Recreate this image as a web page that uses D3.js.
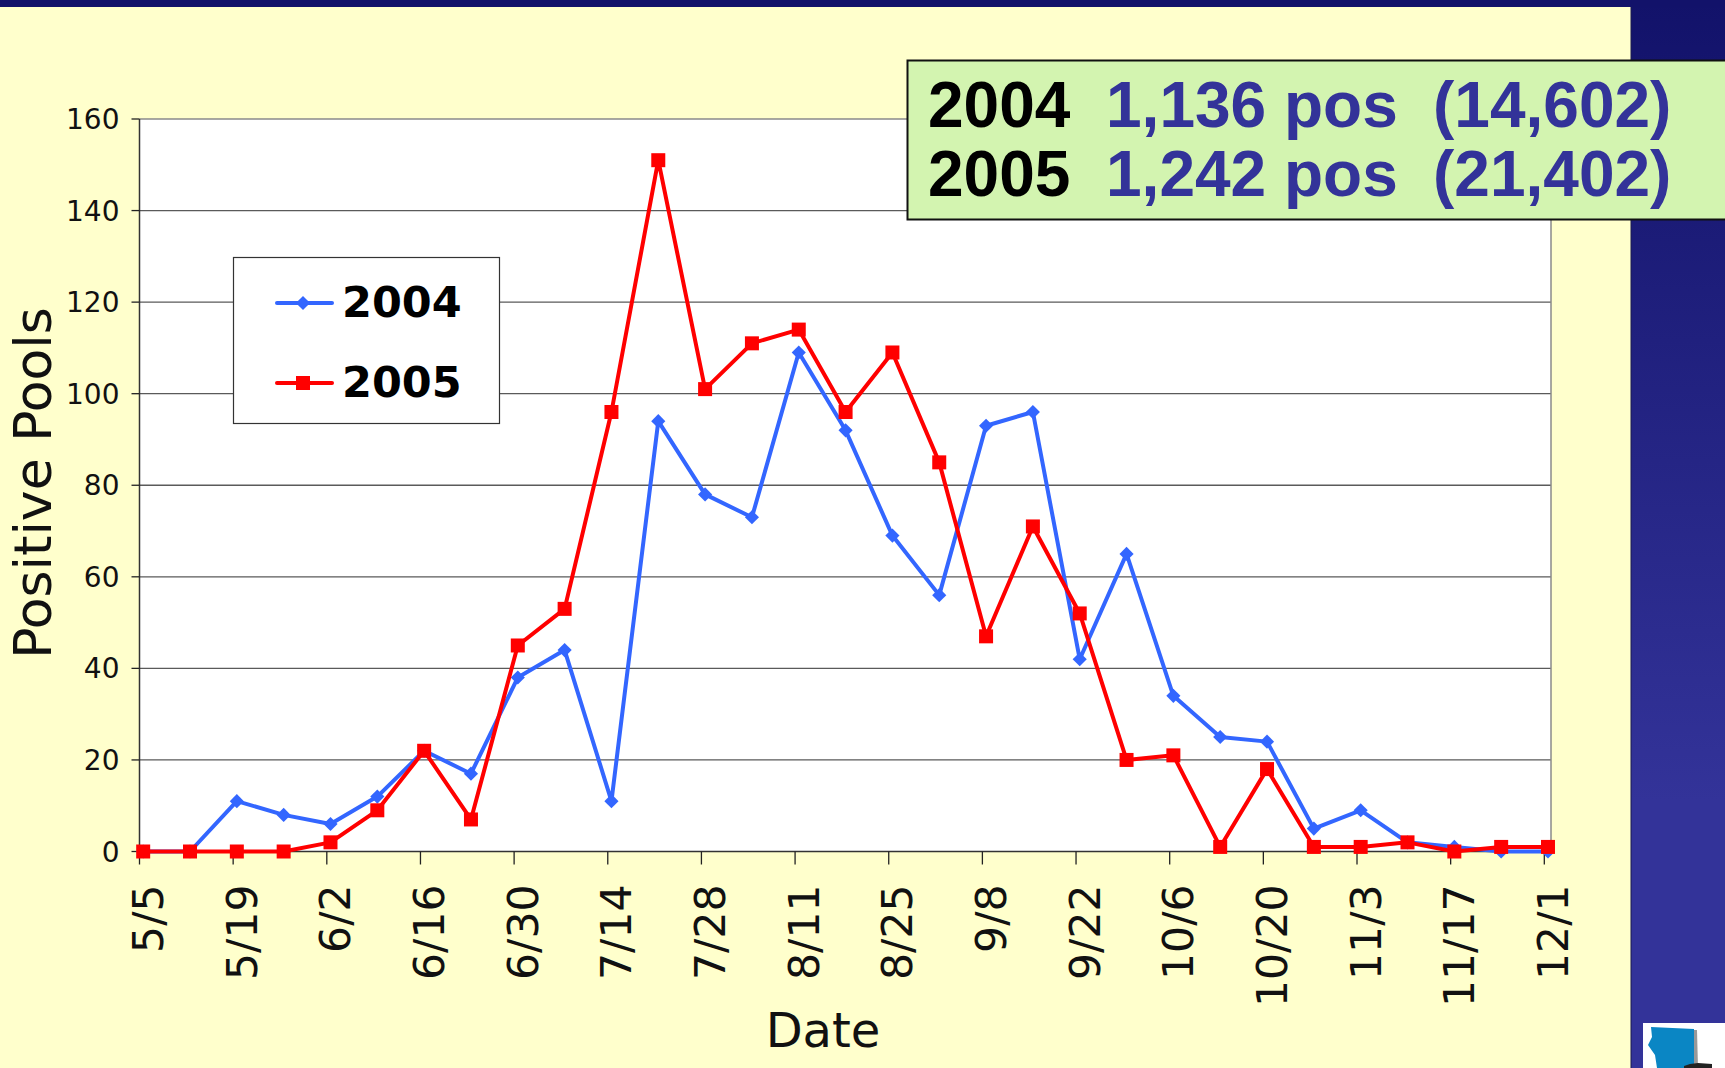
<!DOCTYPE html>
<html><head><meta charset="utf-8">
<script src="https://cdn.jsdelivr.net/npm/d3@7"></script>
<style>html,body{margin:0;padding:0;background:#ffc;overflow:hidden}svg{display:block}</style>
</head><body><svg id="c" width="1725" height="1068"></svg>
<script>
const tickLabels = ["5/5","5/19","6/2","6/16","6/30","7/14","7/28","8/11","8/25","9/8","9/22","10/6","10/20","11/3","11/17","12/1"];
const yTicks = [0,20,40,60,80,100,120,140,160];
const values2004 = [0,0,11,8,6,12,22,17,38,44,11,94,78,73,109,92,69,56,93,96,42,65,34,25,24,5,9,2,1,0,0];
const values2005 = [0,0,0,0,2,9,22,7,45,53,96,151,101,111,114,96,109,85,47,71,52,20,21,1,18,1,1,2,0,1,1];
const seriesNames = ["2004","2005"];
const seriesColors = ["#3366FF","#FF0000"];
const summaryYears = ["2004","2005"];
const summaryPos = ["1,136 pos","1,242 pos"];
const summaryTotal = ["(14,602)","(21,402)"];

const W=1725,H=1068, L=139.5,R=1551,T=119,B=851.5;
const svg=d3.select("#c");
const defs=svg.append("defs");
const g=defs.append("linearGradient").attr("id","side").attr("x1",0).attr("x2",0).attr("y1",0).attr("y2",1);
g.append("stop").attr("offset",0).attr("stop-color","#12126a");
g.append("stop").attr("offset",0.75).attr("stop-color","#333399");
g.append("stop").attr("offset",1).attr("stop-color","#333399");

svg.append("rect").attr("width",W).attr("height",H).attr("fill","#FFFFCC");
svg.append("rect").attr("x",1631).attr("width",94).attr("height",H).attr("fill","url(#side)");
svg.append("rect").attr("width",W).attr("height",7).attr("fill","#12126a");
svg.append("line").attr("x1",1631).attr("x2",1631).attr("y1",7).attr("y2",H).attr("stroke","#1a1a50").attr("stroke-width",1);

// logo
svg.append("rect").attr("x",1643).attr("y",1023).attr("width",82).attr("height",45).attr("fill","#fff");
svg.append("path").attr("d","M1693 1030 L1697 1030 L1698 1068 L1693 1068Z").attr("fill","#999");
svg.append("path").attr("d","M1651 1027 L1694 1029 L1694 1068 L1657 1068 L1655 1055 L1648 1045 L1652 1037Z").attr("fill","#0a86c4");
svg.append("path").attr("d","M1684 1066 L1690 1064 L1698 1063 L1712 1064 L1712 1068 L1684 1068Z").attr("fill","#222");

// plot area
const x=d3.scaleLinear().domain([0,211]).range([L,R]);
const y=d3.scaleLinear().domain([0,160]).range([B,T]);
const weekX=i=>x(i*7+0.55);
const tickX=i=>x(i*14);
svg.append("rect").attr("x",L).attr("y",T).attr("width",R-L).attr("height",B-T).attr("fill","#fff");

svg.append("g").selectAll("line").data(yTicks.filter(d=>d>0&&d<160)).join("line")
  .attr("x1",L).attr("x2",R).attr("y1",d=>y(d)).attr("y2",d=>y(d)).attr("stroke","#5a5a5a").attr("stroke-width",1.3);
svg.append("line").attr("x1",L).attr("x2",R).attr("y1",T).attr("y2",T).attr("stroke","#8a8a8a").attr("stroke-width",1.5);
svg.append("line").attr("x1",R).attr("x2",R).attr("y1",T).attr("y2",B).attr("stroke","#8a8a8a").attr("stroke-width",1.5);
svg.append("line").attr("x1",L).attr("x2",L).attr("y1",T).attr("y2",B).attr("stroke","#333").attr("stroke-width",1.5);
svg.append("line").attr("x1",L).attr("x2",R).attr("y1",B).attr("y2",B).attr("stroke","#333").attr("stroke-width",1.5);

// y axis
svg.append("g").selectAll("line").data(yTicks).join("line")
  .attr("x1",L-8).attr("x2",L).attr("y1",d=>y(d)).attr("y2",d=>y(d)).attr("stroke","#222").attr("stroke-width",1.3);
svg.append("g").selectAll("text").data(yTicks).join("text")
  .attr("x",L-20).attr("y",d=>y(d)+10).attr("text-anchor","end")
  .attr("font-family","DejaVu Sans").attr("font-size",28).attr("fill","#111").text(d=>d);

// x axis
svg.append("g").selectAll("line").data(tickLabels).join("line")
  .attr("x1",(d,i)=>tickX(i)).attr("x2",(d,i)=>tickX(i)).attr("y1",B).attr("y2",B+13).attr("stroke","#222").attr("stroke-width",1.3);
svg.append("g").selectAll("text").data(tickLabels).join("text")
  .attr("transform",(d,i)=>`translate(${tickX(i)+23.5},${B+33}) rotate(-90)`)
  .attr("text-anchor","end").attr("font-family","DejaVu Sans").attr("font-size",42.5).attr("fill","#111").text(d=>d);

// titles
svg.append("text").attr("transform",`translate(51,483) rotate(-90)`).attr("text-anchor","middle")
  .attr("font-family","DejaVu Sans").attr("font-size",52).attr("fill","#111").text("Positive Pools");
svg.append("text").attr("x",823).attr("y",1047).attr("text-anchor","middle")
  .attr("font-family","DejaVu Sans").attr("font-size",48).attr("fill","#111").text("Date");

// series
const line=d3.line().x((d,i)=>weekX(i)).y(d=>y(d));
function drawSeries(vals,color,marker){
  svg.append("path").datum(vals).attr("fill","none").attr("stroke",color).attr("stroke-width",4)
    .attr("stroke-linejoin","round").attr("d",line);
  const m=svg.append("g").selectAll(".m").data(vals).join(marker==="d"?"path":"rect");
  if(marker==="d") m.attr("d",d3.symbol().type(d3.symbolSquare).size(100)()).attr("transform",(d,i)=>`translate(${weekX(i)},${y(d)}) rotate(45)`).attr("fill",color);
  else m.attr("x",(d,i)=>weekX(i)-7).attr("y",d=>y(d)-7).attr("width",14).attr("height",14).attr("fill",color);
}
drawSeries(values2004,seriesColors[0],"d");
drawSeries(values2005,seriesColors[1],"s");

// legend
const lg=svg.append("g");
lg.append("rect").attr("x",233.5).attr("y",257.5).attr("width",266).attr("height",166).attr("fill","#fff").attr("stroke","#333").attr("stroke-width",1.2);
seriesNames.forEach((n,i)=>{
  const ly=i?383:303;
  lg.append("line").attr("x1",277).attr("x2",332).attr("y1",ly).attr("y2",ly).attr("stroke",seriesColors[i]).attr("stroke-width",4).attr("stroke-linecap","round");
  if(i) lg.append("rect").attr("x",296).attr("y",ly-7).attr("width",14).attr("height",14).attr("fill",seriesColors[i]);
  else lg.append("path").attr("d",d3.symbol().type(d3.symbolSquare).size(100)()).attr("transform",`translate(303,${ly}) rotate(45)`).attr("fill",seriesColors[i]);
  lg.append("text").attr("x",342).attr("y",ly+14).attr("font-family","DejaVu Sans").attr("font-weight","bold").attr("font-size",43).attr("fill","#000").text(n);
});

// summary box
const sb=svg.append("g");
sb.append("rect").attr("x",907.5).attr("y",60.5).attr("width",830).attr("height",159).attr("fill","#D3F4B0").attr("stroke","#111").attr("stroke-width",2);
summaryYears.forEach((yr,i)=>{
  const by=i?196:127;
  const t=(s,xx,c)=>sb.append("text").attr("x",xx).attr("y",by).attr("font-family","Liberation Sans").attr("font-weight","bold").attr("font-size",64).attr("fill",c).text(s);
  t(yr,928,"#000"); t(summaryPos[i],1106,"#333399"); t(summaryTotal[i],1433,"#333399");
});
</script></body></html>
